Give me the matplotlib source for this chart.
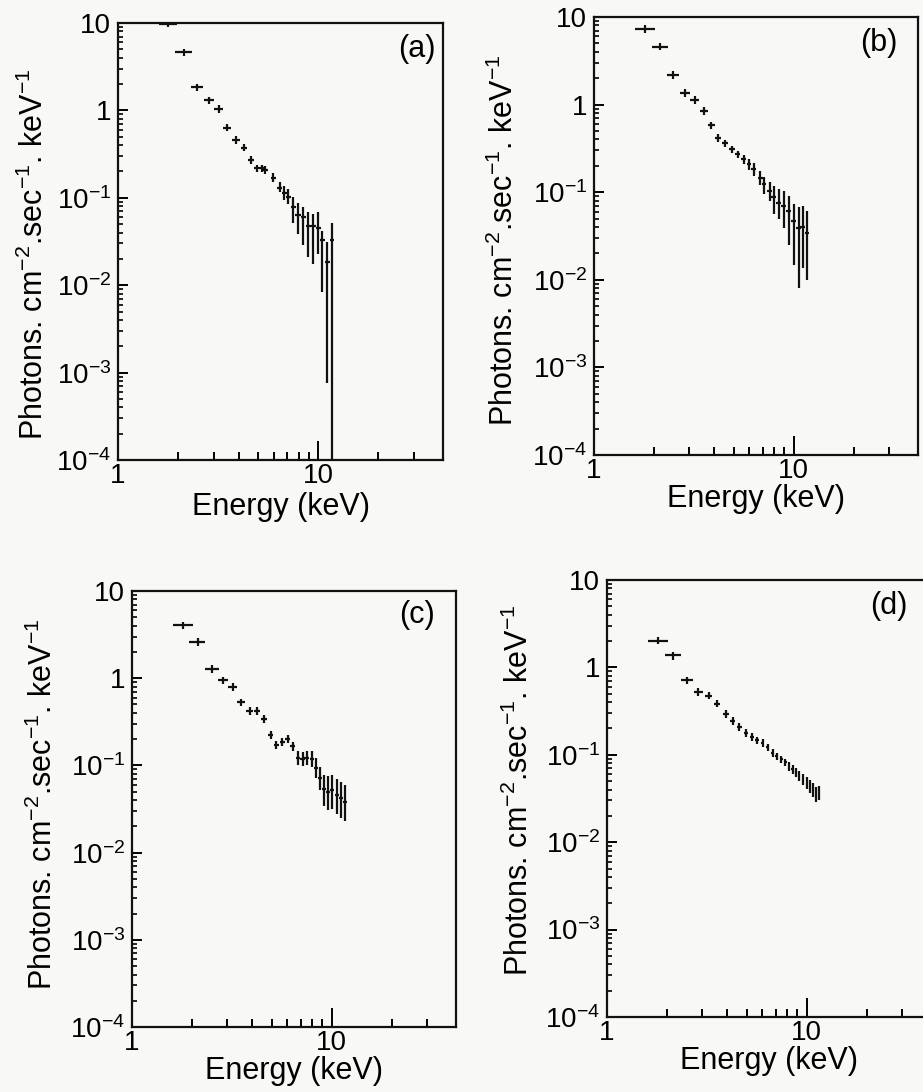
import numpy as np
import matplotlib
matplotlib.use("Agg")
import matplotlib.pyplot as plt
from matplotlib.ticker import LogLocator, FixedLocator, NullFormatter

plt.rcParams['font.family'] = ['Liberation Sans', 'DejaVu Sans']
plt.rcParams['mathtext.fontset'] = 'custom'
plt.rcParams['mathtext.rm'] = 'Liberation Sans'
plt.rcParams['mathtext.it'] = 'Liberation Sans'

# Panel (a)
ea = [1.78, 2.13, 2.49, 2.85, 3.19, 3.52, 3.89, 4.27, 4.64, 4.92, 5.21, 5.45, 5.96,
      6.43, 6.76, 7.08, 7.5, 7.94, 8.41, 8.91, 9.44, 10.0, 10.5, 11.1, 11.75]
fa = [9.8, 4.6, 1.83, 1.30, 1.04, 0.637, 0.46, 0.376, 0.272, 0.218, 0.218, 0.21, 0.168,
      0.131, 0.113, 0.103, 0.079, 0.064, 0.061, 0.047, 0.047, 0.045, 0.033, 0.0186, 0.033]
fa_lo = [8.9, 4.15, 1.65, 1.17, 0.94, 0.575, 0.415, 0.34, 0.245, 0.196, 0.196, 0.189, 0.15,
         0.115, 0.095, 0.085, 0.051, 0.039, 0.029, 0.021, 0.0177, 0.023, 0.0084, 0.00077, 1e-6]
fa_hi = [10.8, 5.05, 2.0, 1.43, 1.14, 0.70, 0.505, 0.415, 0.30, 0.24, 0.24, 0.232, 0.19,
         0.15, 0.135, 0.125, 0.103, 0.087, 0.079, 0.069, 0.066, 0.069, 0.042, 0.031, 0.051]
dxa = [0.18, 0.2, 0.18, 0.17, 0.16, 0.16, 0.16, 0.16, 0.16, 0.15, 0.15, 0.15, 0.18,
       0.2, 0.2, 0.2, 0.22, 0.24, 0.25, 0.26, 0.28, 0.3, 0.3, 0.3, 0.3]

# Panel (b)
eb = [1.81, 2.15, 2.49, 2.87, 3.2, 3.55, 3.87, 4.18, 4.55, 4.92, 5.25, 5.62, 5.96,
      6.31, 6.81, 7.13, 7.59, 7.94, 8.41, 8.91, 9.44, 10.0, 10.6, 11.1, 11.7]
fb = [7.35, 4.6, 2.18, 1.37, 1.13, 0.85, 0.58, 0.42, 0.36, 0.31, 0.27, 0.238, 0.209,
      0.183, 0.147, 0.123, 0.103, 0.088, 0.076, 0.0695, 0.061, 0.047, 0.039, 0.04, 0.034]
fb_lo = [6.6, 4.15, 1.96, 1.23, 1.02, 0.765, 0.52, 0.378, 0.324, 0.279, 0.243, 0.21, 0.18,
         0.155, 0.12, 0.095, 0.08, 0.056, 0.05, 0.039, 0.025, 0.0147, 0.0081, 0.0138, 0.010]
fb_hi = [8.1, 5.05, 2.4, 1.5, 1.24, 0.935, 0.64, 0.462, 0.396, 0.34, 0.297, 0.265, 0.24,
         0.215, 0.175, 0.15, 0.13, 0.118, 0.11, 0.103, 0.09, 0.073, 0.067, 0.069, 0.061]
dxb = [0.2, 0.2, 0.18, 0.17, 0.16, 0.16, 0.16, 0.15, 0.15, 0.15, 0.15, 0.15, 0.15,
       0.16, 0.18, 0.18, 0.2, 0.2, 0.22, 0.24, 0.25, 0.26, 0.28, 0.3, 0.3]

# Panel (c)
ec = [1.81, 2.13, 2.52, 2.87, 3.2, 3.53, 3.88, 4.25, 4.59, 4.96, 5.29, 5.67, 6.02,
      6.38, 6.8, 7.16, 7.5, 7.95, 8.35, 8.75, 9.2, 9.64, 10.1, 10.6, 11.2, 11.7]
fc = [4.04, 2.6, 1.28, 0.95, 0.79, 0.53, 0.42, 0.42, 0.345, 0.226, 0.171, 0.185, 0.202,
      0.166, 0.122, 0.119, 0.122, 0.119, 0.094, 0.072, 0.053, 0.05, 0.052, 0.046, 0.042, 0.038]
fc_lo = [3.64, 2.34, 1.15, 0.855, 0.71, 0.477, 0.378, 0.378, 0.31, 0.203, 0.154, 0.165, 0.18,
         0.148, 0.10, 0.098, 0.10, 0.095, 0.072, 0.052, 0.034, 0.031, 0.032, 0.028, 0.025, 0.023]
fc_hi = [4.45, 2.86, 1.41, 1.045, 0.87, 0.583, 0.462, 0.462, 0.38, 0.249, 0.19, 0.205, 0.225,
         0.185, 0.145, 0.142, 0.145, 0.145, 0.12, 0.095, 0.078, 0.075, 0.078, 0.07, 0.065, 0.06]
dxc = [0.2, 0.2, 0.2, 0.17, 0.16, 0.16, 0.16, 0.15, 0.15, 0.15, 0.15, 0.15, 0.15,
       0.16, 0.18, 0.18, 0.2, 0.2, 0.2, 0.2, 0.22, 0.22, 0.24, 0.24, 0.25, 0.25]

# Panel (d)
ed = [1.81, 2.15, 2.53, 2.87, 3.23, 3.56, 3.95, 4.27, 4.6, 4.97, 5.33, 5.65, 6.03, 6.38,
      6.77, 7.09, 7.46, 7.82, 8.15, 8.5, 8.85, 9.2, 9.6, 10.0, 10.4, 10.8, 11.2, 11.6]
fd = [2.03, 1.37, 0.71, 0.525, 0.476, 0.386, 0.294, 0.246, 0.208, 0.178, 0.16, 0.146, 0.136,
      0.122, 0.105, 0.096, 0.089, 0.082, 0.074, 0.068, 0.062, 0.057, 0.052, 0.048, 0.044,
      0.040, 0.036, 0.037]
fd_lo = [1.83, 1.23, 0.64, 0.473, 0.43, 0.348, 0.265, 0.222, 0.188, 0.161, 0.145, 0.132, 0.123,
         0.11, 0.095, 0.087, 0.080, 0.074, 0.066, 0.061, 0.055, 0.05, 0.045, 0.041, 0.037,
         0.033, 0.029, 0.03]
fd_hi = [2.23, 1.51, 0.78, 0.578, 0.524, 0.425, 0.323, 0.271, 0.229, 0.196, 0.176, 0.161, 0.15,
         0.134, 0.116, 0.106, 0.098, 0.090, 0.082, 0.076, 0.07, 0.065, 0.06, 0.056, 0.052,
         0.047, 0.043, 0.044]
dxd = [0.2, 0.2, 0.18, 0.15, 0.14, 0.14, 0.13, 0.12, 0.12, 0.12, 0.12, 0.12, 0.12, 0.12,
       0.12, 0.12, 0.12, 0.12, 0.12, 0.12, 0.12, 0.12, 0.12, 0.12, 0.12, 0.12, 0.12, 0.12]

panels = [
    ("(a)", ea, fa, fa_lo, fa_hi, dxa),
    ("(b)", eb, fb, fb_lo, fb_hi, dxb),
    ("(c)", ec, fc, fc_lo, fc_hi, dxc),
    ("(d)", ed, fd, fd_lo, fd_hi, dxd),
]

W, H = 923, 1092
# axes boxes in pixels: left, top, right, bottom
boxes = [(118, 23, 443, 460), (594, 17, 918, 455), (132, 591, 456, 1027), (607, 580, 931, 1017)]
ylabel_pos = [(-0.21, 0.47), (-0.228, 0.49), (-0.225, 0.51), (-0.222, 0.52)]
tag_pos = [(0.92, 0.94), (0.88, 0.94), (0.88, 0.945), (0.87, 0.94)]
xlabel_pad = [2, 0, 0, 0]

fig = plt.figure(figsize=(W / 100, H / 100), dpi=100)
fig.patch.set_facecolor('#f8f8f6')

ylab = r'Photons. cm$^{-2}$.sec$^{-1}$. keV$^{-1}$'
ylabels = ['10$^{-4}$', '10$^{-3}$', '10$^{-2}$', '10$^{-1}$', '1', '10']

for (tag, e, f, lo, hi, dx), (l, t, r, b), ylp, tp, xlp in zip(panels, boxes, ylabel_pos,
                                                              tag_pos, xlabel_pad):
    ax = fig.add_axes([l / W, 1 - b / H, (r - l) / W, (b - t) / H])
    ax.set_facecolor('none')
    e = np.array(e)
    f = np.array(f)
    yerr = [f - np.array(lo), np.array(hi) - f]
    ax.errorbar(e, f, xerr=dx, yerr=yerr, fmt='none', ecolor='#111111',
                elinewidth=1.6, capsize=0)
    ax.set_xscale('log')
    ax.set_yscale('log')
    ax.set_xlim(1, 42)
    ax.set_ylim(1e-4, 10)

    ax.xaxis.set_major_locator(FixedLocator([1, 10]))
    ax.set_xticklabels(['1', '10'])
    ax.xaxis.set_minor_locator(FixedLocator([2, 3, 4, 5, 6, 7, 8, 9, 20, 30]))
    ax.xaxis.set_minor_formatter(NullFormatter())
    ax.yaxis.set_major_locator(FixedLocator([1e-4, 1e-3, 1e-2, 1e-1, 1, 10]))
    ax.set_yticklabels(ylabels)
    ax.yaxis.set_minor_locator(LogLocator(base=10, subs=np.arange(2, 10), numticks=20))
    ax.yaxis.set_minor_formatter(NullFormatter())

    ax.tick_params(axis='x', which='major', direction='in', length=14, width=1.4,
                   labelsize=20, pad=2, top=False)
    ax.tick_params(axis='x', which='minor', direction='in', length=6, width=1.4, top=False)
    ax.tick_params(axis='y', which='major', direction='in', length=7, width=1.4,
                   labelsize=20, pad=5, right=False)
    ax.tick_params(axis='y', which='minor', direction='in', length=3.5, width=1.2, right=False)
    for s in ax.spines.values():
        s.set_linewidth(1.6)
        s.set_color('#111111')

    ax.set_xlabel('Energy (keV)', fontsize=22, labelpad=xlp)
    ax.set_ylabel(ylab, fontsize=22)
    ax.yaxis.set_label_coords(*ylp)
    ax.text(tp[0], tp[1], tag, transform=ax.transAxes, fontsize=22,
            ha='center', va='center')

fig.savefig('out.png', dpi=100, facecolor=fig.get_facecolor())
